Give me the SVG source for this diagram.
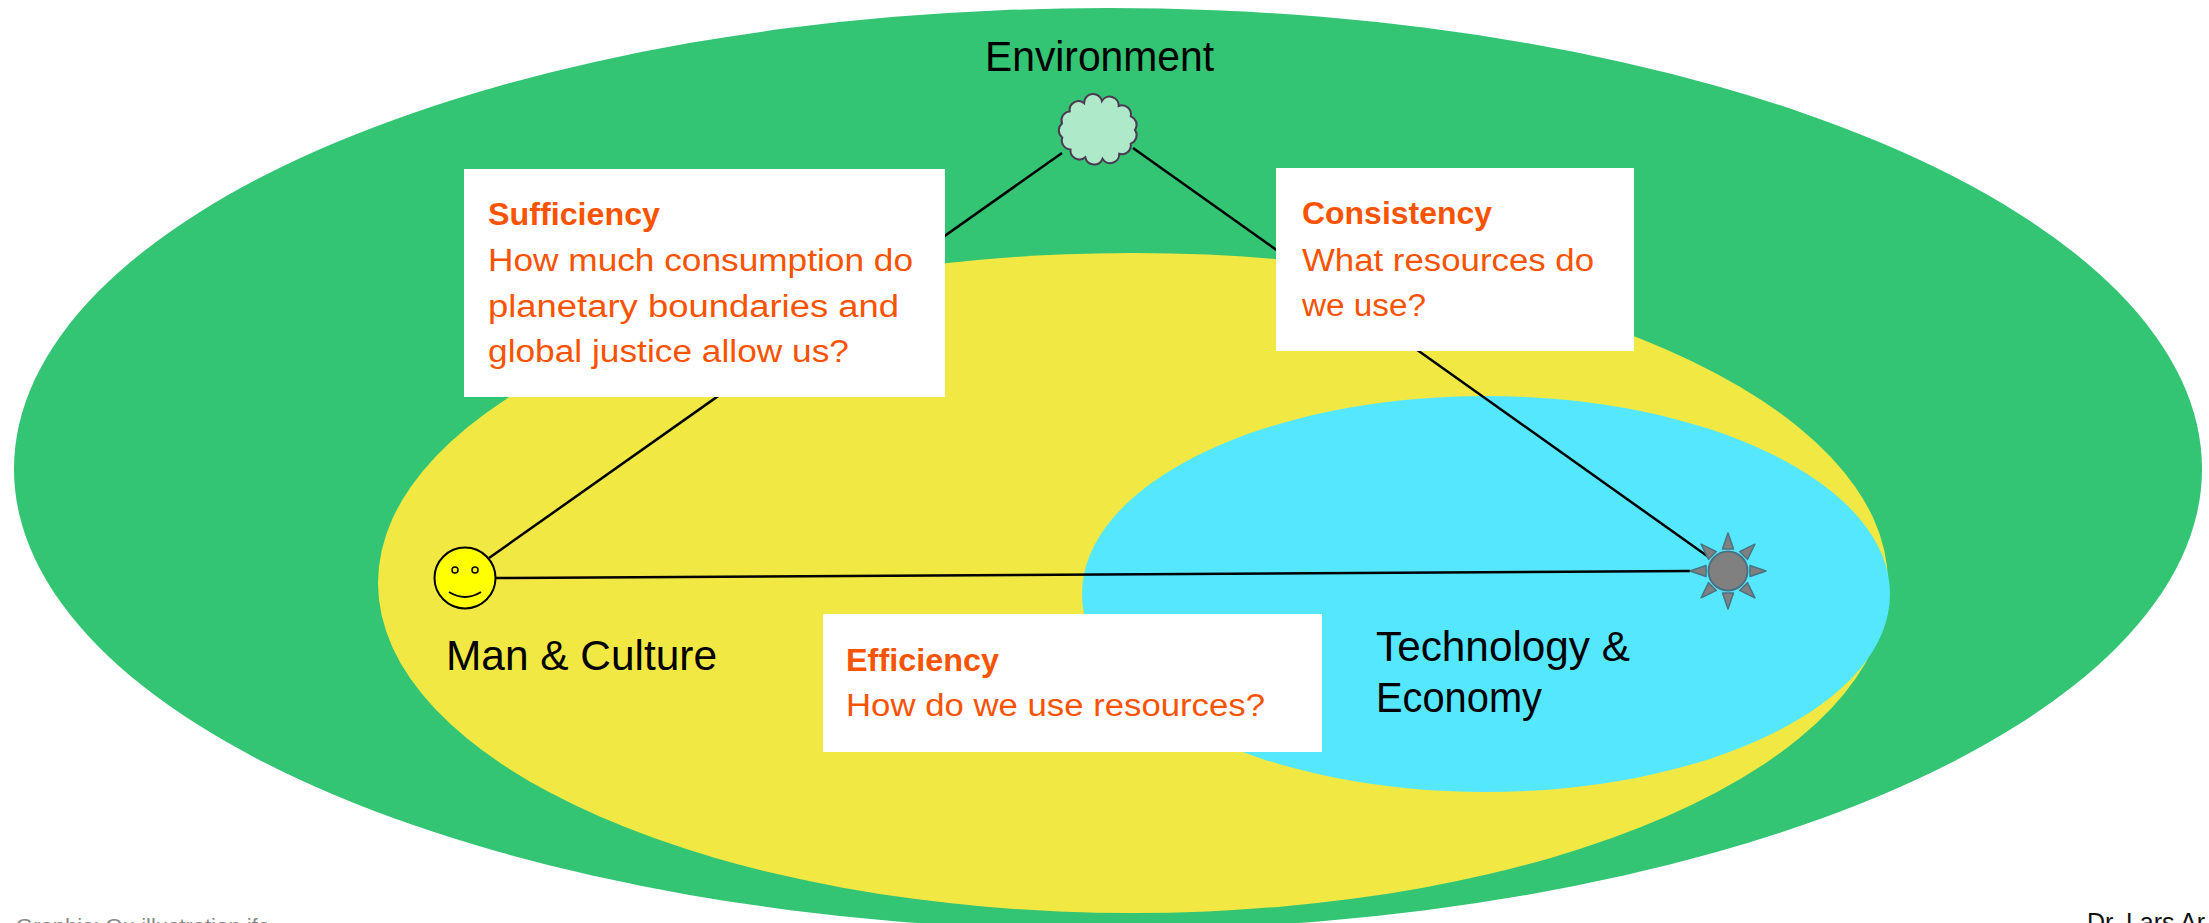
<svg xmlns="http://www.w3.org/2000/svg" width="2209" height="923" viewBox="0 0 2209 923">
<style>
.lbl{font-family:"Liberation Sans",Arial,sans-serif;font-size:42px;fill:#000}
.ttl{font-family:"Liberation Sans",Arial,sans-serif;font-size:32px;font-weight:bold;fill:#fa5300}
.txt{font-family:"Liberation Sans",Arial,sans-serif;font-size:31px;fill:#fa5300}
.box{fill:#fff}
.con{stroke:#000;stroke-width:2.5;fill:none}
.ray{fill:#808080;stroke:#4a7282;stroke-width:1.5;stroke-linejoin:round}
</style>
<rect width="2209" height="923" fill="#fff"/>
<g id="environment-area"><ellipse cx="1108" cy="469" rx="1094" ry="461" fill="#33c474"/></g>
<g id="man-culture-area"><ellipse cx="1133" cy="583" rx="755" ry="330" fill="#f2e844"/></g>
<g id="technology-area"><ellipse cx="1486" cy="594" rx="404" ry="198" fill="#55e7fe"/></g>
<g id="connectors">
<line class="con" x1="1062" y1="153" x2="489" y2="558"/>
<line class="con" x1="1133" y1="148" x2="1710" y2="558"/>
<line class="con" x1="496" y1="578" x2="1690" y2="571"/>
</g>
<g id="sufficiency">
<rect class="box" x="464" y="169" width="481" height="228"/>
<text class="ttl" x="488" y="225" textLength="172" lengthAdjust="spacingAndGlyphs">Sufficiency</text>
<text class="txt" x="488" y="271" textLength="425" lengthAdjust="spacingAndGlyphs">How much consumption do</text>
<text class="txt" x="488" y="317" textLength="411" lengthAdjust="spacingAndGlyphs">planetary boundaries and</text>
<text class="txt" x="488" y="362" textLength="361" lengthAdjust="spacingAndGlyphs">global justice allow us?</text>
</g>
<g id="consistency">
<rect class="box" x="1276" y="168" width="358" height="183"/>
<text class="ttl" x="1302" y="224" textLength="190" lengthAdjust="spacingAndGlyphs">Consistency</text>
<text class="txt" x="1302" y="271" textLength="292" lengthAdjust="spacingAndGlyphs">What resources do</text>
<text class="txt" x="1302" y="316" textLength="124" lengthAdjust="spacingAndGlyphs">we use?</text>
</g>
<g id="efficiency">
<rect class="box" x="823" y="614" width="499" height="138"/>
<text class="ttl" x="846" y="671" textLength="153" lengthAdjust="spacingAndGlyphs">Efficiency</text>
<text class="txt" x="846" y="716" textLength="419" lengthAdjust="spacingAndGlyphs">How do we use resources?</text>
</g>
<g id="environment">
<text class="lbl" x="985" y="71" textLength="229" lengthAdjust="spacingAndGlyphs">Environment</text>
<path d="M1135,130 A9 9 0 0 1 1130.7,143.6 A9 9 0 0 1 1119.2,153.8 A9 9 0 0 1 1102.5,158.8 A9 9 0 0 1 1085.3,157.3 A9 9 0 0 1 1070.5,149.4 A9 9 0 0 1 1062.3,137.5 A9 9 0 0 1 1062,123.5 A9 9 0 0 1 1069.7,111.4 A9 9 0 0 1 1084.1,103.1 A9 9 0 0 1 1101.9,101.1 A9 9 0 0 1 1118.7,106 A9 9 0 0 1 1130.7,116.4 A9 9 0 0 1 1135,130 Z" fill="#aee9c9" stroke="#4b3a52" stroke-width="2"/>
</g>
<g id="man-culture">
<circle cx="465" cy="578" r="30.5" fill="#ffff00" stroke="#000" stroke-width="2"/>
<circle cx="455" cy="570" r="3" fill="#ffff00" stroke="#000" stroke-width="1.5"/>
<circle cx="475" cy="570" r="3" fill="#ffff00" stroke="#000" stroke-width="1.5"/>
<path d="M449,592 Q465,602 481,592" fill="none" stroke="#000" stroke-width="1.8"/>
<text class="lbl" x="446" y="670" textLength="271" lengthAdjust="spacingAndGlyphs">Man &amp; Culture</text>
</g>
<g id="technology-economy">
<g transform="translate(1728,571)">
<polygon class="ray" points="0,-38 -5.5,-22 5.5,-22"/>
<polygon class="ray" points="0,-38 -5.5,-22 5.5,-22" transform="rotate(45)"/>
<polygon class="ray" points="0,-38 -5.5,-22 5.5,-22" transform="rotate(90)"/>
<polygon class="ray" points="0,-38 -5.5,-22 5.5,-22" transform="rotate(135)"/>
<polygon class="ray" points="0,-38 -5.5,-22 5.5,-22" transform="rotate(180)"/>
<polygon class="ray" points="0,-38 -5.5,-22 5.5,-22" transform="rotate(225)"/>
<polygon class="ray" points="0,-38 -5.5,-22 5.5,-22" transform="rotate(270)"/>
<polygon class="ray" points="0,-38 -5.5,-22 5.5,-22" transform="rotate(315)"/>
<circle r="19.5" fill="#808080" stroke="#4a7282" stroke-width="2"/>
</g>
<text class="lbl" x="1376" y="661" textLength="254" lengthAdjust="spacingAndGlyphs">Technology &amp;</text>
<text class="lbl" x="1376" y="712" textLength="166" lengthAdjust="spacingAndGlyphs">Economy</text>
</g>
<g id="footer">
<text x="16" y="933" font-family="'Liberation Sans',Arial,sans-serif" font-size="21" fill="#888" textLength="254" lengthAdjust="spacingAndGlyphs">Graphic: Qu illustration.ifa</text>
<text x="2087" y="931" font-family="'Liberation Sans',Arial,sans-serif" font-size="25" fill="#111">Dr. Lars Ar</text>
</g>
</svg>
